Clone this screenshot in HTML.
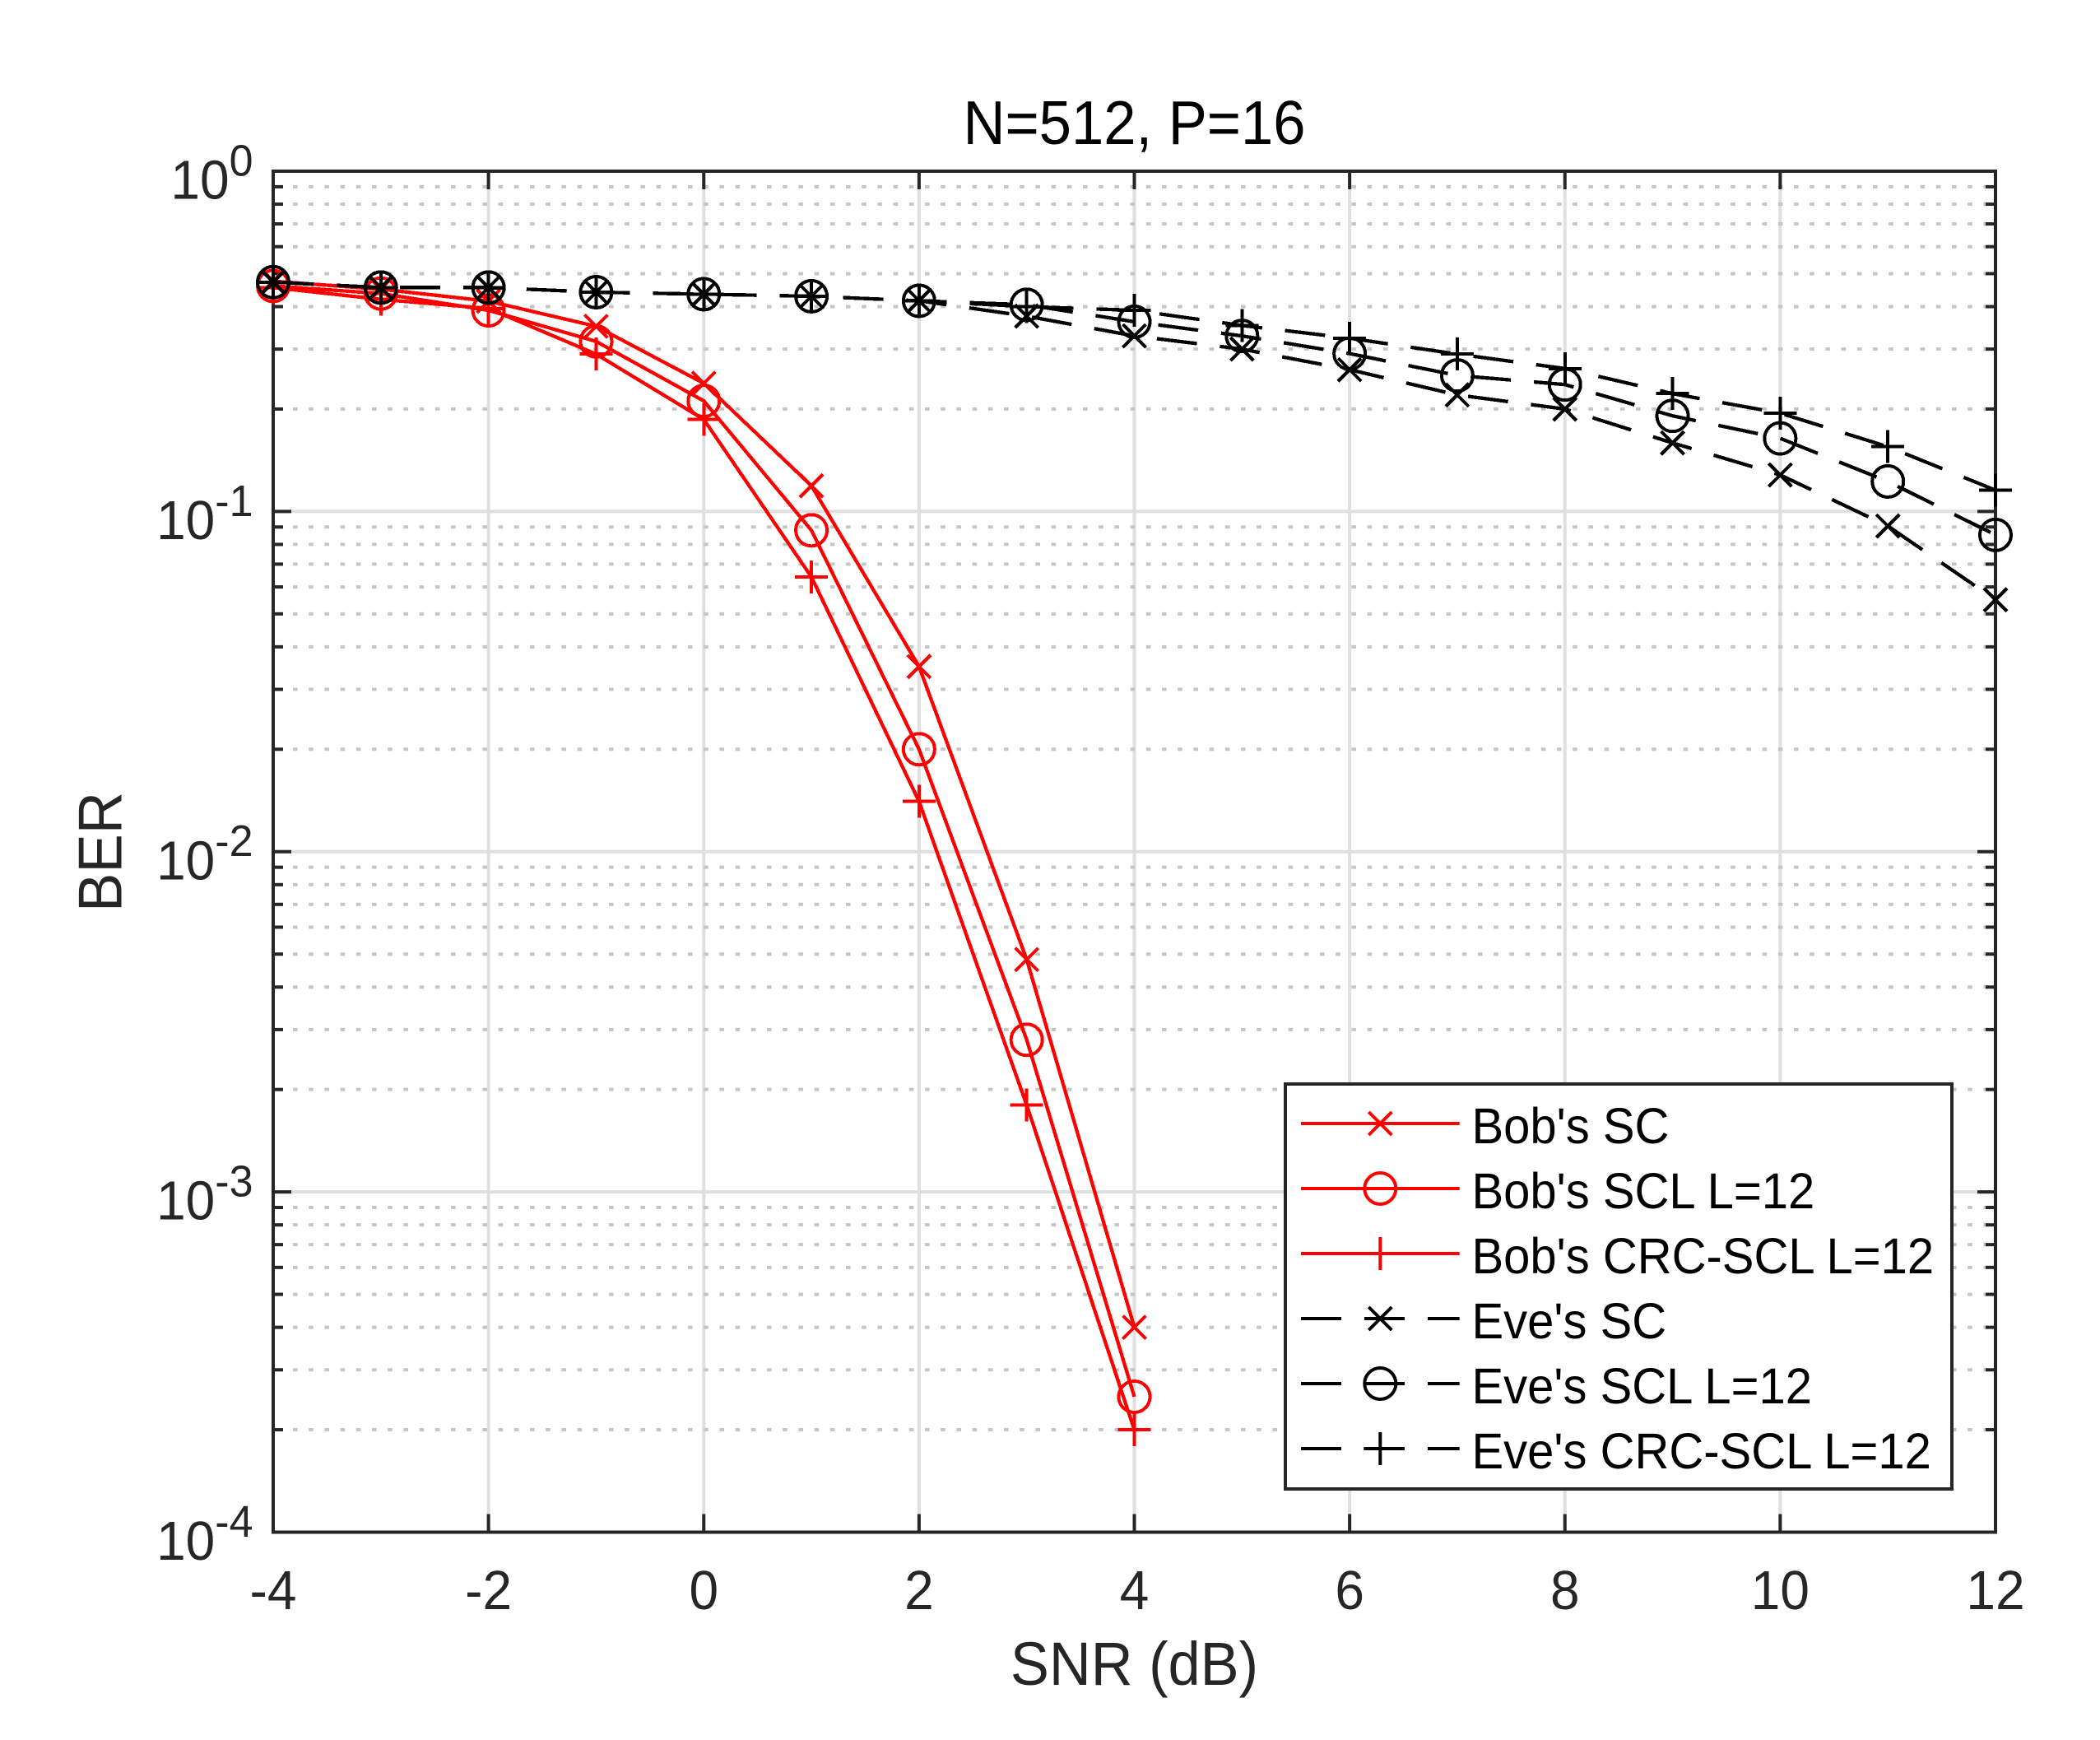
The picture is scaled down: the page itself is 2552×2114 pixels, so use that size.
<!DOCTYPE html>
<html>
<head>
<meta charset="utf-8">
<title>N=512, P=16</title>
<style>
html,body{margin:0;padding:0;background:#fff;}
svg{display:block;}
text{font-family:"Liberation Sans",Arial,sans-serif;}
</style>
</head>
<body>
<svg id="chart" xmlns="http://www.w3.org/2000/svg" width="2552" height="2114" viewBox="0 0 2552 2114">
  <rect x="0" y="0" width="2552" height="2114" fill="#ffffff"/>
  <g id="grid"></g>
  <g id="axes"></g>
  <g id="series" shape-rendering="crispEdges"></g>
  <g id="legend"></g>
  <text transform="translate(1378.5,175) scale(1,1.07)" font-size="70.6" text-anchor="middle" fill="#000000">N=512, P=16</text>
  <text transform="translate(1378.5,2047) scale(1,1.06)" font-size="70.4" text-anchor="middle" fill="#262626">SNR (dB)</text>
  <text transform="translate(147.5,1035) rotate(-90) scale(1,1.06)" font-size="71" text-anchor="middle" fill="#262626">BER</text>
</svg>
<script>
var xTickValues = [-4, -2, 0, 2, 4, 6, 8, 10, 12];
var yTickExponents = [0, -1, -2, -3, -4];

var bobSnr = [-4, -3, -2, -1, 0, 1, 2, 3, 4];
var eveSnr = [-4, -3, -2, -1, 0, 1, 2, 3, 4, 5, 6, 7, 8, 9, 10, 11, 12];

var bobSc = [0.475, 0.45, 0.415, 0.35, 0.238, 0.119, 0.035, 0.00482, 0.0004];
var bobScl = [0.46, 0.437, 0.39, 0.316, 0.2113, 0.088, 0.02, 0.0028, 0.00025];
var bobCrc = [0.455, 0.42, 0.395, 0.29, 0.1864, 0.0642, 0.01405, 0.0018, 0.0002];

var eveSc = [0.472, 0.455, 0.455, 0.441, 0.435, 0.429, 0.416, 0.375, 0.328, 0.30, 0.261, 0.22, 0.2, 0.159, 0.128, 0.0906, 0.055];
var eveScl = [0.472, 0.455, 0.455, 0.441, 0.435, 0.429, 0.416, 0.405, 0.361, 0.328, 0.291, 0.251, 0.236, 0.191, 0.164, 0.1225, 0.0853];
var eveCrc = [0.472, 0.455, 0.455, 0.441, 0.435, 0.429, 0.416, 0.40, 0.39, 0.352, 0.323, 0.29, 0.263, 0.222, 0.1945, 0.155, 0.1155];

var legendLabels = ["Bob's SC", "Bob's SCL L=12", "Bob's CRC-SCL L=12", "Eve's SC", "Eve's SCL L=12", "Eve's CRC-SCL L=12"];

var NS = 'http://www.w3.org/2000/svg';
var LEFT = 332, RIGHT = 2425, TOP = 208, BOTTOM = 1861.5;
var DASH = '49 28';

function xScale(v) { return LEFT + (v + 4) * (RIGHT - LEFT) / 16; }
function yScale(v) { return BOTTOM - (Math.log10(v) + 4) * (BOTTOM - TOP) / 4; }

function make(tag, attrs, parent) {
  var el = document.createElementNS(NS, tag);
  for (var k in attrs) el.setAttribute(k, attrs[k]);
  parent.appendChild(el);
  return el;
}

var gridG = document.getElementById('grid');
var axesG = document.getElementById('axes');
var seriesG = document.getElementById('series');
var legendG = document.getElementById('legend');
var INK = '#262626';

function drawGrid() {
  xTickValues.slice(1, -1).forEach(function (t) {
    var el = make('line', { x1: xScale(t), x2: xScale(t), y1: TOP, y2: BOTTOM, stroke: '#dfdfdf', 'stroke-width': 4 }, gridG);
    
    
  });
  yTickExponents.forEach(function (e) {
    if (e > -4) {
      for (var n = 2; n <= 9; n++) {
        var y = yScale(n * Math.pow(10, e - 1));
        var el = make('line', { x1: LEFT + 4.8, x2: RIGHT, y1: y, y2: y, stroke: '#c6c6c6', 'stroke-width': 4, 'stroke-dasharray': '5.6 13.6' }, gridG);
        
        
      }
    }
    if (e < 0 && e > -4) {
      var ym = yScale(Math.pow(10, e));
      var mj = make('line', { x1: LEFT, x2: RIGHT, y1: ym, y2: ym, stroke: '#dfdfdf', 'stroke-width': 4 }, gridG);
      
      
    }
  });
}

function tick(x1, y1, x2, y2, name) {
  var el = make('line', { x1: x1, y1: y1, x2: x2, y2: y2, stroke: INK, 'stroke-width': 4 }, axesG);
  
  
}

function drawAxes() {
  var box = make('rect', { x: LEFT, y: TOP, width: RIGHT - LEFT, height: BOTTOM - TOP, fill: 'none', stroke: INK, 'stroke-width': 4 }, axesG);
  
  

  xTickValues.forEach(function (t) {
    var x = xScale(t);
    tick(x, BOTTOM, x, BOTTOM - 22, 'x-tick');
    tick(x, TOP, x, TOP + 22, 'x-tick-top');
    var lab = make('text', { transform: 'translate(' + x + ',1955) scale(1,1.04)', 'font-size': 64, 'text-anchor': 'middle', fill: INK }, axesG);
    
    
    lab.textContent = String(t);
  });

  yTickExponents.forEach(function (e) {
    var y = yScale(Math.pow(10, e));
    tick(LEFT, y, LEFT + 22, y, 'y-tick');
    tick(RIGHT, y, RIGHT - 22, y, 'y-tick-right');
    if (e > -4) {
      for (var n = 2; n <= 9; n++) {
        var ym = yScale(n * Math.pow(10, e - 1));
        tick(LEFT, ym, LEFT + 12, ym, 'y-minor-tick');
        tick(RIGHT, ym, RIGHT - 12, ym, 'y-minor-tick-right');
      }
    }
    var lab = make('text', { transform: 'translate(307.5,' + (y + 33.5) + ') scale(1,1.04)', 'font-size': 64, 'text-anchor': 'end', fill: INK }, axesG);
    
    
    var base = make('tspan', {}, lab);
    base.textContent = '10';
    var sup = make('tspan', { dy: -27, 'font-size': 52 }, lab);
    sup.textContent = String(e);
  });
}

function drawMarker(kind, cx, cy, color, parent) {
  var common = { stroke: color, 'stroke-width': 4, fill: 'none' };
  var g = make('g', common, parent);
  
  
  if (kind === 'x') {
    var a = 14;
    make('line', { x1: cx - a, y1: cy - a, x2: cx + a, y2: cy + a }, g);
    make('line', { x1: cx - a, y1: cy + a, x2: cx + a, y2: cy - a }, g);
  } else if (kind === 'o') {
    make('circle', { cx: cx, cy: cy, r: 19 }, g);
  } else {
    var b = 20;
    make('line', { x1: cx - b, y1: cy, x2: cx + b, y2: cy }, g);
    make('line', { x1: cx, y1: cy - b, x2: cx, y2: cy + b }, g);
  }
}

function drawSeries(name, xs, ys, color, dash, marker) {
  var g = make('g', {}, seriesG);
  
  
  var pts = xs.map(function (x, i) { return xScale(x).toFixed(2) + ',' + yScale(ys[i]).toFixed(2); }).join(' ');
  var line = make('polyline', { points: pts, fill: 'none', stroke: color, 'stroke-width': 4.3, 'stroke-linejoin': 'round' }, g);
  
  
  if (dash) line.setAttribute('stroke-dasharray', dash);
  xs.forEach(function (x, i) { drawMarker(marker, xScale(x), yScale(ys[i]), color, g); });
}

function drawLegend() {
  var box = make('rect', { x: 1562, y: 1317, width: 810, height: 492, fill: '#ffffff', stroke: INK, 'stroke-width': 4 }, legendG);
  
  
  var colors = ['#ff0000', '#ff0000', '#ff0000', '#000000', '#000000', '#000000'];
  var kinds = ['x', 'o', '+', 'x', 'o', '+'];
  legendLabels.forEach(function (label, i) {
    var y = 1365 + i * 79;
    var g = make('g', {}, legendG);
    
    
    var ln = make('line', { x1: 1581, x2: 1773.7, y1: y, y2: y, stroke: colors[i], 'stroke-width': 4 }, g);
    
    
    if (i > 2) ln.setAttribute('stroke-dasharray', DASH);
    drawMarker(kinds[i], 1677.3, y, colors[i], g);
    var t = make('text', { transform: 'translate(1788.5,' + (y + 24) + ') scale(1,1.05)', 'font-size': 58, fill: '#000000' }, g);
    
    
    t.textContent = label;
  });
}

drawGrid();
drawAxes();
drawSeries('bob-sc', bobSnr, bobSc, '#ff0000', null, 'x');
drawSeries('bob-scl', bobSnr, bobScl, '#ff0000', null, 'o');
drawSeries('bob-crc-scl', bobSnr, bobCrc, '#ff0000', null, '+');
drawSeries('eve-sc', eveSnr, eveSc, '#000000', DASH, 'x');
drawSeries('eve-scl', eveSnr, eveScl, '#000000', DASH, 'o');
drawSeries('eve-crc-scl', eveSnr, eveCrc, '#000000', DASH, '+');
drawLegend();
</script>
</body>
</html>
